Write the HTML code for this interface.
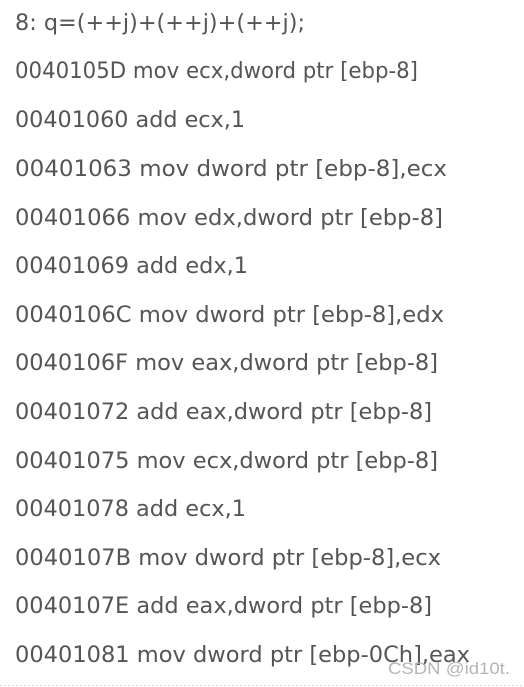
<!DOCTYPE html>
<html><head><meta charset="utf-8"><style>
html,body{margin:0;padding:0;background:#fff;width:524px;height:687px;overflow:hidden}
</style></head><body>
<svg width="524" height="687" xmlns="http://www.w3.org/2000/svg" style="display:block">
<g font-family="'DejaVu Sans','Liberation Sans',sans-serif" font-size="22" fill="#555">
<text x="15" y="30" textLength="290" lengthAdjust="spacingAndGlyphs">8: q=(++j)+(++j)+(++j);</text>
<text x="15" y="78" textLength="403" lengthAdjust="spacingAndGlyphs">0040105D mov ecx,dword ptr [ebp-8]</text>
<text x="15" y="127" textLength="230" lengthAdjust="spacingAndGlyphs">00401060 add ecx,1</text>
<text x="15" y="176" textLength="432" lengthAdjust="spacingAndGlyphs">00401063 mov dword ptr [ebp-8],ecx</text>
<text x="15" y="225" textLength="428" lengthAdjust="spacingAndGlyphs">00401066 mov edx,dword ptr [ebp-8]</text>
<text x="15" y="273" textLength="233" lengthAdjust="spacingAndGlyphs">00401069 add edx,1</text>
<text x="15" y="322" textLength="429" lengthAdjust="spacingAndGlyphs">0040106C mov dword ptr [ebp-8],edx</text>
<text x="15" y="370" textLength="423" lengthAdjust="spacingAndGlyphs">0040106F mov eax,dword ptr [ebp-8]</text>
<text x="15" y="419" textLength="417" lengthAdjust="spacingAndGlyphs">00401072 add eax,dword ptr [ebp-8]</text>
<text x="15" y="468" textLength="423" lengthAdjust="spacingAndGlyphs">00401075 mov ecx,dword ptr [ebp-8]</text>
<text x="15" y="516" textLength="231" lengthAdjust="spacingAndGlyphs">00401078 add ecx,1</text>
<text x="15" y="565" textLength="426" lengthAdjust="spacingAndGlyphs">0040107B mov dword ptr [ebp-8],ecx</text>
<text x="15" y="613" textLength="417" lengthAdjust="spacingAndGlyphs">0040107E add eax,dword ptr [ebp-8]</text>
<text x="15" y="662" textLength="455" lengthAdjust="spacingAndGlyphs">00401081 mov dword ptr [ebp-0Ch],eax</text>
</g>
<text x="388" y="674" font-family="'Liberation Sans',sans-serif" font-size="17" fill="#b5b5b5" textLength="122" lengthAdjust="spacingAndGlyphs">CSDN @id10t.</text>
<line x1="0" y1="685.5" x2="524" y2="685.5" stroke="#ddd" stroke-dasharray="2,2"/>
</svg>
</body></html>
